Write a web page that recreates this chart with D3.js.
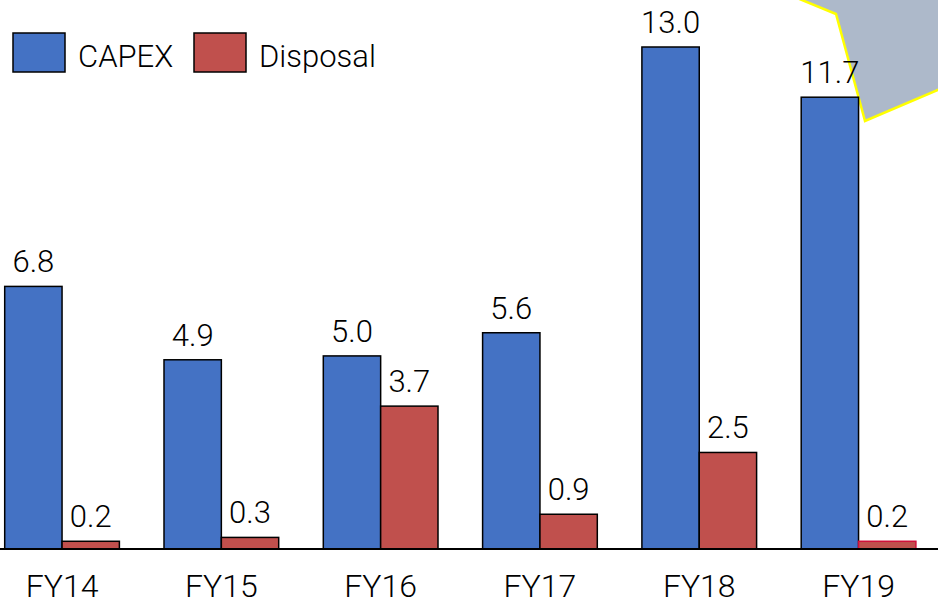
<!DOCTYPE html>
<html>
<head>
<meta charset="utf-8">
<script src="https://cdn.jsdelivr.net/npm/d3@7/dist/d3.min.js"></script>
<style>
  html, body { margin: 0; padding: 0; background: #fff; }
  svg { display: block; }
  text { font-family: Roboto, "Noto Sans", sans-serif; font-weight: 300; fill: #000; }
</style>
</head>
<body>
<svg id="chart" width="938" height="604"></svg>
<script>
const years = ["FY14", "FY15", "FY16", "FY17", "FY18", "FY19"];
const capex = [6.8, 4.9, 5.0, 5.6, 13.0, 11.7];
const disposal = [0.2, 0.3, 3.7, 0.9, 2.5, 0.2];
const seriesNames = ["CAPEX", "Disposal"];
const seriesColors = ["#4472C4", "#C0504D"];

const W = 938, H = 604;
const baseY = 549;
const svg = d3.select("#chart");

// Callout shape in the top-right corner, behind the chart marks
svg.append("polygon")
  .attr("points", "797,-2 836,14 865,121 940,89 940,-2")
  .attr("fill", "#ADB9CA")
  .attr("stroke", "#FFFF00")
  .attr("stroke-width", 2.5);

// Category bands: each group is 159.3px wide, centred between the two bars
const x = d3.scaleBand()
  .domain(years)
  .range([-17.6, -17.6 + 159.3 * years.length])
  .paddingInner(0.28)
  .paddingOuter(0.14);

const inner = d3.scaleBand().domain(seriesNames).range([0, x.bandwidth()]);

const y = d3.scaleLinear().domain([0, 13]).range([baseY, 47]);

const rows = years.map((yr, i) => ({ year: yr, values: [capex[i], disposal[i]] }));

const groups = svg.append("g").selectAll("g")
  .data(rows)
  .join("g")
  .attr("transform", d => `translate(${x(d.year)},0)`);

groups.selectAll("rect")
  .data(d => d.values.map((v, k) => ({ v, k, year: d.year })))
  .join("rect")
  .attr("x", d => inner(seriesNames[d.k]))
  .attr("y", d => y(d.v))
  .attr("width", inner.bandwidth())
  .attr("height", d => baseY - y(d.v))
  .attr("fill", d => seriesColors[d.k])
  .attr("stroke", d => (d.year === "FY19" && d.k === 1) ? "#D0103A" : "#000")
  .attr("stroke-width", 1.5);

groups.selectAll("text.val")
  .data(d => d.values.map((v, k) => ({ v, k })))
  .join("text")
  .attr("class", "val")
  .attr("x", d => inner(seriesNames[d.k]) + inner.bandwidth() / 2)
  .attr("y", d => y(d.v) - 14)
  .attr("text-anchor", "middle")
  .attr("font-size", 31)
  .text(d => d.v.toFixed(1));

// Baseline
svg.append("line")
  .attr("x1", 0).attr("x2", W)
  .attr("y1", baseY).attr("y2", baseY)
  .attr("stroke", "#000").attr("stroke-width", 2);

// Category axis labels
const xAxis = d3.axisBottom(x).tickSize(0).tickPadding(0);
const ax = svg.append("g").attr("transform", `translate(0,${baseY})`).call(xAxis);
ax.select(".domain").remove();
ax.selectAll("text")
  .attr("font-size", 32)
  .attr("font-family", "Roboto, 'Noto Sans', sans-serif")
  .attr("font-weight", 300)
  .attr("fill", "#000")
  .attr("dy", null)
  .attr("y", 48);

// Legend
const legend = svg.append("g");
const legendX = [13, 194];
seriesNames.forEach((name, k) => {
  legend.append("rect")
    .attr("x", legendX[k]).attr("y", 33)
    .attr("width", 52).attr("height", 39)
    .attr("fill", seriesColors[k])
    .attr("stroke", "#000").attr("stroke-width", 1.5);
  legend.append("text")
    .attr("x", legendX[k] + 65).attr("y", 67)
    .attr("font-size", 31)
    .text(name);
});
</script>
</body>
</html>
